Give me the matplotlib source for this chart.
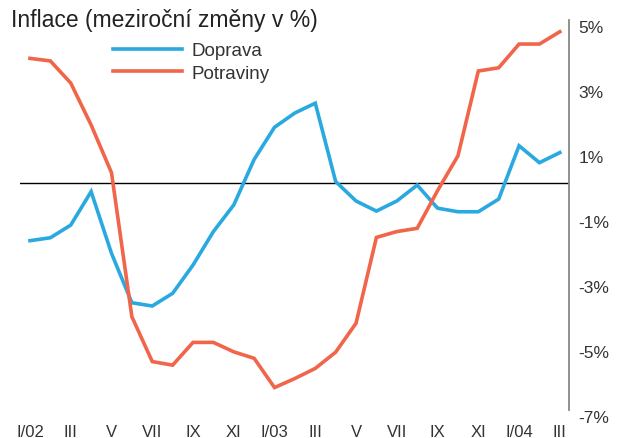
import matplotlib
matplotlib.use("Agg")
import matplotlib.pyplot as plt
import matplotlib.transforms as mtransforms

months = list(range(27))
tick_labels = ["I/02", "III", "V", "VII", "IX", "XI", "I/03", "III", "V", "VII", "IX", "XI", "I/04", "III"]
doprava = [-1.79, -1.70, -1.31, -0.28, -2.18, -3.70, -3.80, -3.41, -2.54, -1.51, -0.69, 0.71,
           1.70, 2.14, 2.44, 0.03, -0.57, -0.88, -0.57, -0.08, -0.79, -0.90, -0.90, -0.51,
           1.13, 0.61, 0.92]
potraviny = [3.82, 3.74, 3.06, 1.77, 0.30, -4.13, -5.51, -5.62, -4.92, -4.92, -5.21, -5.41,
             -6.31, -6.03, -5.72, -5.22, -4.33, -1.69, -1.51, -1.41, -0.25, 0.82, 3.43, 3.53,
             4.26, 4.26, 4.64]
y_ticks = [5, 3, 1, -1, -3, -5, -7]

plt.rcParams['font.family'] = ['Liberation Sans', 'DejaVu Sans']

fig = plt.figure(figsize=(6.19, 4.39), dpi=100)
ax = fig.add_axes([20/619, 1-411/439, 549/619, 390/439])

blue = "#29a9e0"
red = "#f1654a"
ax.plot(months, doprava, color=blue, lw=2.6, solid_joinstyle='miter', label="Doprava", zorder=3)
ax.plot(months, potraviny, color=red, lw=2.6, solid_joinstyle='miter', label="Potraviny", zorder=3)
ax.axhline(0, color="black", lw=1.0, zorder=2)

ax.set_xlim(-0.49, 26.45)
ax.set_ylim(-7, 5)

for s in ["top", "left", "bottom"]:
    ax.spines[s].set_visible(False)
ax.spines["right"].set_color("#888888")
ax.spines["right"].set_linewidth(1.3)

ax.yaxis.tick_right()
ax.set_yticks(y_ticks)
ax.set_yticklabels([f"{v}%" for v in y_ticks])
ax.tick_params(axis='y', length=0, pad=7, labelsize=12.5, labelcolor="#333333")
offset = mtransforms.ScaledTranslation(0, -4/72, fig.dpi_scale_trans)
for lab in ax.get_yticklabels():
    lab.set_transform(lab.get_transform() + offset)

ax.set_xticks(months[::2])
ax.set_xticklabels(tick_labels)
ax.tick_params(axis='x', length=0, pad=10, labelsize=12, labelcolor="#333333")

fig.text(11/619, 1-21/439, "Inflace (meziroční změny v %)", fontsize=16.5, color="#222222",
         va='center', ha='left')

leg = ax.legend(loc='upper left', bbox_to_anchor=((113-20)/549, 1-(42-20)/390), frameon=False,
                fontsize=13.5, handlelength=3.7, handletextpad=0.5, labelspacing=0.3,
                borderpad=0, borderaxespad=0)
for t in leg.get_texts():
    t.set_color("#333333")

fig.savefig("out.png", dpi=100)
